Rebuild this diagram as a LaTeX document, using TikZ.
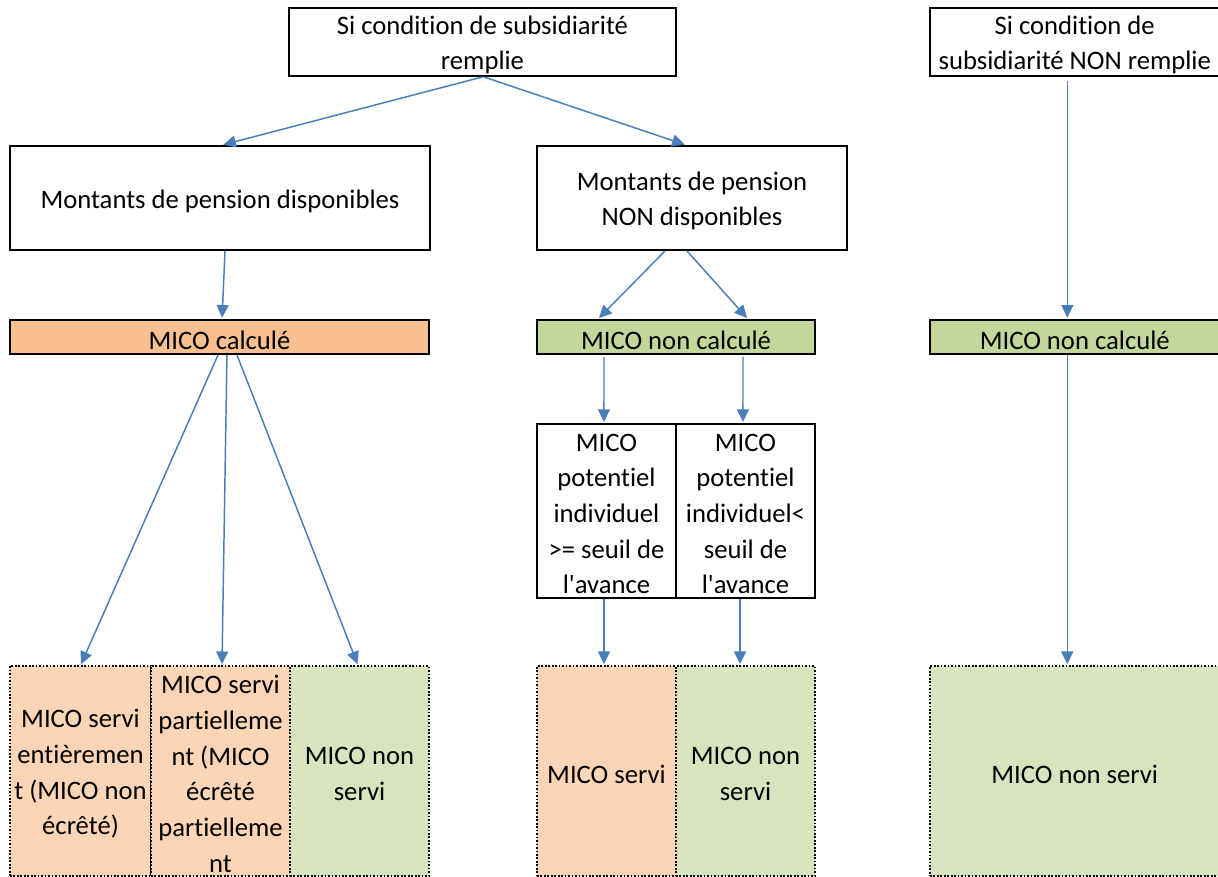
\documentclass[tikz,border=0pt]{standalone}
\usepackage{fontspec}
\setmainfont{Carlito}[Ligatures=NoCommon]
\usetikzlibrary{arrows.meta}
\definecolor{arrblue}{HTML}{4A7EBB}
\definecolor{orA}{HTML}{F8BF90}
\definecolor{grA}{HTML}{C4D79B}
\definecolor{orB}{HTML}{FBD5B5}
\definecolor{grB}{HTML}{D7E4BD}
\newcommand\bx[7]{\node[#6,minimum width={(#4-#2)*0.75pt},minimum height={(#5-#3)*0.75pt}] (#1) at ({(#2+#4)/2},{(#3+#5)/2}) {};
  \node[txt] (#1-t) at ([yshift=-2.2pt]#1.center) {#7};}
\begin{document}
\begin{tikzpicture}[x=0.75pt,y=-0.75pt,
  txt/.style={inner sep=0pt,outer sep=0pt,align=center,font=\fontsize{20}{26.8}\selectfont},
  box/.style={inner sep=0pt,draw=black,line width=1.4pt},
  obox/.style={box,fill=orA},
  gbox/.style={box,fill=grA},
  cell/.style={inner sep=0pt,draw=black,line width=1.1pt},
  bot/.style={inner sep=0pt,draw=black,line width=0.8pt,dash pattern=on 1.3pt off 1.3pt},
  ob/.style={bot,fill=orB},
  gb/.style={bot,fill=grB},
  arr/.style={draw=arrblue,line width=1.1pt,-{Triangle[length=9.5pt,width=9pt]},shorten >=1pt}]
\clip (0,0) rectangle (1218,877);
\fill[white] (0,0) rectangle (1218,877);
% top row
\bx{top}{289}{8}{676}{76}{box}{Si condition de subsidiarité\\remplie}
\bx{rtop}{930}{8}{1219.5}{76}{box}{Si condition de\\subsidiarité NON remplie}
% second row
\bx{md}{10}{146}{430}{250}{box}{Montants de pension disponibles}
\bx{mnd}{537}{146}{847}{250}{box}{Montants de pension\\NON disponibles}
% third row
\bx{mc}{10}{320}{429}{354}{obox}{MICO calculé}
\bx{mnc}{537}{320}{815}{354}{gbox}{MICO non calculé}
\bx{rnc}{930}{320}{1219.5}{354}{gbox}{MICO non calculé}
% middle table
\bx{c1}{537}{424}{676}{598}{cell}{MICO\\potentiel\\individuel\\>= seuil de\\l\textquotesingle avance}
\bx{c2}{676}{424}{815}{598}{cell}{MICO\\potentiel\\individuel<\\seuil de\\l\textquotesingle avance}
% bottom row
\bx{b1}{10}{666}{151}{876}{ob}{MICO servi\\entièremen\\t (MICO non\\écrêté)}
\bx{b2}{151}{666}{290}{876}{ob}{MICO servi\\partielleme\\nt (MICO\\écrêté\\partielleme\\nt}
\bx{b3}{290}{666}{429}{876}{gb}{MICO non\\servi}
\bx{m1}{537}{666}{676}{876}{ob}{MICO servi}
\bx{m2}{676}{666}{815}{876}{gb}{MICO non\\servi}
\bx{rb}{930}{666}{1219.5}{876}{gb}{MICO non servi}
% connectors
\draw[arr] (top.south) -- ([xshift=1.5pt]md.north);
\draw[arr] ([xshift=1pt]top.south) -- ([xshift=-4.5pt]mnd.north);
\draw[arr] ([xshift=3.75pt]md.south) -- ([xshift=1.9pt]mc.north);
\draw[arr] ([xshift=-20.25pt]mnd.south) -- ([xshift=-58.5pt]mnc.north);
\draw[arr] ([xshift=-3.75pt]mnd.south) -- ([xshift=54pt]mnc.north);
\draw[arr] ([xshift=-5.6pt,yshift=-3pt]rtop.south) -- ([xshift=-5.6pt]rnc.north);
\draw[arr] ([xshift=-1.1pt]mc.south) -- (b1.north);
\draw[arr] ([xshift=5.6pt]mc.south) -- ([xshift=1.1pt]b2.north);
\draw[arr] ([xshift=13.1pt]mc.south) -- ([xshift=-1.1pt]b3.north);
\draw[arr] ([xshift=-54pt,yshift=-1.5pt]mnc.south) -- ([xshift=-1.9pt]c1.north);
\draw[arr] ([xshift=50.25pt,yshift=-1.5pt]mnc.south) -- ([xshift=-1.9pt]c2.north);
\draw[arr] ([xshift=-1.9pt]c1.south) -- ([xshift=-1.9pt]m1.north);
\draw[arr] ([xshift=-4.1pt]c2.south) -- ([xshift=-4.1pt]m2.north);
\draw[arr] ([xshift=-5.6pt]rnc.south) -- ([xshift=-5.6pt]rb.north);
\end{tikzpicture}
\end{document}
